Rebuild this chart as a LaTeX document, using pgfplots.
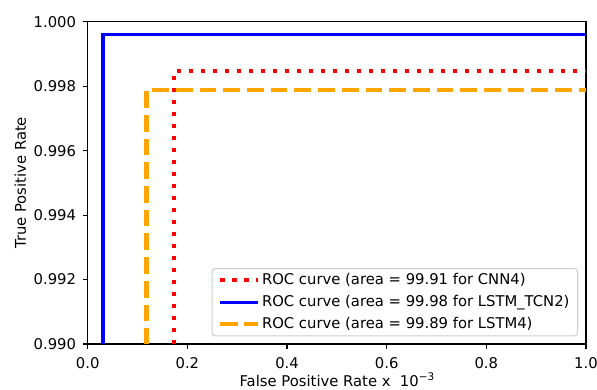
\documentclass[border=0pt]{standalone}
\usepackage{fontspec}
\setmainfont{DejaVu Sans}
\usepackage{pgfplots}
\pgfplotsset{compat=1.18}
\definecolor{mplorange}{RGB}{255,165,0}
\definecolor{legedge}{RGB}{204,204,204}
\newcommand{\mfont}{\fontsize{14.8bp}{17bp}\selectfont}
\begin{document}
\mfont
\begin{tikzpicture}
\begin{axis}[
  scale only axis, width=498.3bp, height=322.3bp,
  xmin=0, xmax=1, ymin=0.990, ymax=1.000,
  xtick={0,0.2,0.4,0.6,0.8,1.0},
  ytick={0.990,0.992,0.994,0.996,0.998,1.000},
  xticklabel style={/pgf/number format/.cd, fixed, fixed zerofill, precision=1, /tikz/.cd, yshift=-3bp},
  yticklabel style={/pgf/number format/.cd, fixed, fixed zerofill, precision=3, /tikz/.cd, xshift=-1.5bp},
  /pgf/number format/assume math mode=true,
  tick label style={font=\mfont},
  label style={font=\mfont},
  tick align=outside, tick pos=left, major tick length=5bp,
  axis line style={line width=1.1bp},
  every tick/.style={black, line width=1.1bp},
  xlabel={False Positive Rate x \ 10\raisebox{0.42em}{\fontsize{10.4bp}{12bp}\selectfont \char"2212 3}},
  xlabel style={at={(axis description cs:0.5,0)}, anchor=base, yshift=-42.5bp, inner sep=0pt},
  ylabel={True Positive Rate},
  ylabel style={yshift=-2.5bp},
  clip=true,
  legend cell align=left,
  legend style={at={(1,0)}, anchor=south east, xshift=-8bp, yshift=7.5bp,
    draw=legedge, line width=1bp, rounded corners=3bp, fill=white, fill opacity=0.8, text opacity=1,
    font=\mfont, inner xsep=6bp, inner ysep=3bp,
    row sep=4.5bp},
  legend image code/.code={\path (-0.5bp,0bp) -- (37bp,0bp); \draw[#1] (0bp,0bp) -- (32bp,0bp);},
]
\addplot[red, line width=4.2bp, dash pattern=on 4.2bp off 7.8bp, line join=miter] coordinates {(0.173,0.9885) (0.173,0.99846) (1.0,0.99846)};
\addlegendentry{ROC curve (area = 99.91 for CNN4)}
\addplot[blue, line width=3.1bp, line join=miter] coordinates {(0.0307,0.9885) (0.0307,0.99961) (1.0,0.99961)};
\addlegendentry{ROC curve (area = 99.98 for LSTM\_TCN2)}
\addplot[mplorange, line width=4.4bp, dash pattern=on 16.7bp off 7bp, line join=round] coordinates {(0.118,0.9885) (0.118,0.99788) (1.0,0.99788)};
\addlegendentry{ROC curve (area = 99.89 for LSTM4)}
\end{axis}
\pgfresetboundingbox
\path ([shift={(-87.7bp,-46bp)}]current axis.south west) rectangle ([shift={(11bp,21.7bp)}]current axis.north east);
\end{tikzpicture}
\end{document}
